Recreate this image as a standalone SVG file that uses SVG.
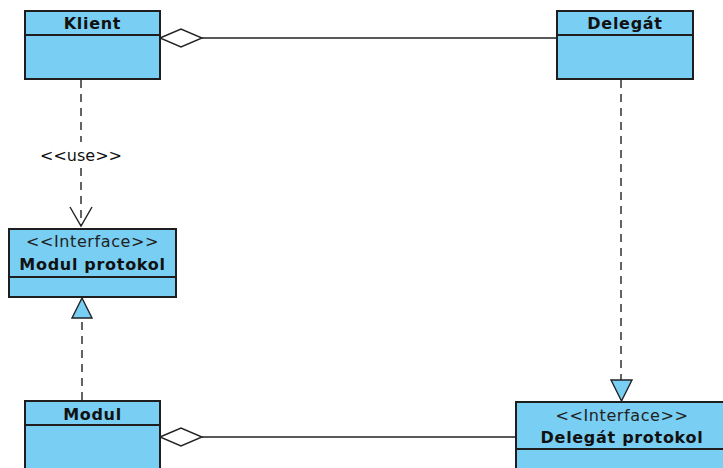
<svg xmlns="http://www.w3.org/2000/svg" width="723" height="468" viewBox="0 0 723 468">
<style>
.box{fill:#79cef3;stroke:#1e1e1e;stroke-width:2}
.div{stroke:#1e1e1e;stroke-width:2;fill:none}
.t{font-family:"DejaVu Sans",sans-serif;font-size:16px;fill:#111;text-anchor:middle}
.b{font-weight:bold;letter-spacing:0.7px}
.s{letter-spacing:0.6px;fill:#222}
.ln{stroke:#222;stroke-width:1.4;fill:none}
.dash{stroke:#222;stroke-width:1.4;fill:none;stroke-dasharray:8 6}
.dia{fill:#fff;stroke:#222;stroke-width:1.4}
.tri{fill:#79cef3;stroke:#222;stroke-width:1.4}
</style>
<rect width="723" height="468" fill="#fff"/>
<g id="connectors">
<line class="ln" x1="202" y1="38" x2="557" y2="38"/>
<polygon class="dia" points="160,38 181,29 202,38 181,47"/>
<line class="dash" x1="81" y1="80" x2="81" y2="142"/>
<line class="dash" x1="81" y1="168" x2="81" y2="226"/>
<polyline class="ln" points="70,207 81,226 92,207"/>
<text class="t" x="81" y="161">&lt;&lt;use&gt;&gt;</text>
<line class="dash" x1="82" y1="400" x2="82" y2="318"/>
<polygon class="tri" points="82,298 72,318 92,318"/>
<line class="dash" x1="621" y1="80" x2="621" y2="380"/>
<polygon class="tri" points="611,380 632,380 621.5,401"/>
<line class="ln" x1="202" y1="437" x2="516" y2="437"/>
<polygon class="dia" points="160,437 181,428 202,437 181,446"/>
</g>
<g id="klient">
<rect class="box" x="25" y="11" width="135" height="68"/>
<line class="div" x1="25" y1="35" x2="160" y2="35"/>
<text class="t b" x="92.5" y="29">Klient</text>
</g>
<g id="delegat">
<rect class="box" x="557" y="11" width="136" height="68"/>
<line class="div" x1="557" y1="35" x2="693" y2="35"/>
<text class="t b" x="625" y="29">Delegát</text>
</g>
<g id="modul-protokol">
<rect class="box" x="9" y="229" width="167" height="68"/>
<line class="div" x1="9" y1="277" x2="176" y2="277"/>
<text class="t s" x="92.5" y="247">&lt;&lt;Interface&gt;&gt;</text>
<text class="t b" x="92.5" y="270">Modul protokol</text>
</g>
<g id="modul">
<rect class="box" x="25" y="401" width="135" height="80"/>
<line class="div" x1="25" y1="425" x2="160" y2="425"/>
<text class="t b" x="92.5" y="420">Modul</text>
</g>
<g id="delegat-protokol">
<rect class="box" x="516" y="402" width="220" height="80"/>
<line class="div" x1="516" y1="449" x2="736" y2="449"/>
<text class="t s" x="622" y="421">&lt;&lt;Interface&gt;&gt;</text>
<text class="t b" x="622" y="443">Delegát protokol</text>
</g>
</svg>
